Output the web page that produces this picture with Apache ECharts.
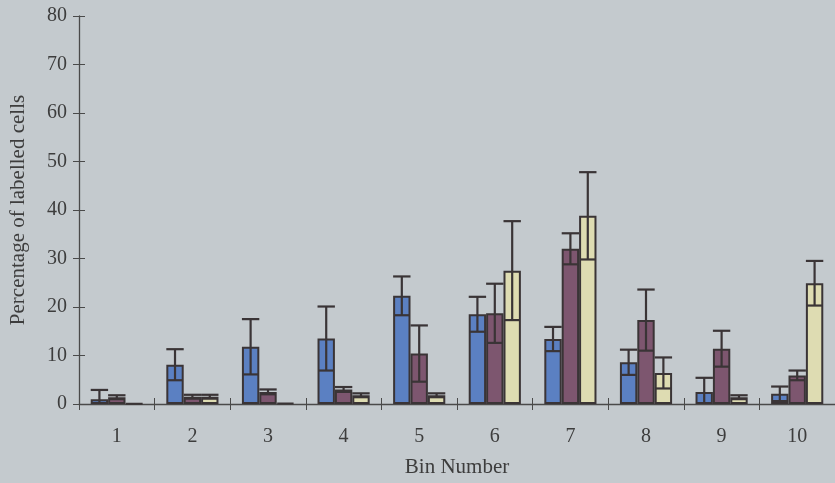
<!DOCTYPE html>
<html>
<head>
<meta charset="utf-8">
<script src="https://cdn.jsdelivr.net/npm/echarts@6/dist/echarts.min.js"></script>
<style>
  html, body { margin: 0; padding: 0; background: #c4cace; }
  #chart { width: 835px; height: 483px; }
</style>
</head>
<body>
<div id="chart"></div>
<script>
// Bin numbers along the x axis
const bins = ['1', '2', '3', '4', '5', '6', '7', '8', '9', '10'];
const yTicks = [0, 10, 20, 30, 40, 50, 60, 70, 80];

// Percentage of labelled cells per bin, with error (+/-) for each group
const blueVals   = [1.0, 8.1, 11.8, 13.5, 22.3, 18.5, 13.4, 8.6, 2.5, 2.1];
const blueErr    = [1.9, 3.2, 5.7, 6.6, 4.0, 3.6, 2.5, 2.6, 2.9, 1.5];
const purpleVals = [1.4, 1.5, 2.5, 3.0, 10.4, 18.7, 32.0, 17.3, 11.4, 5.9];
const purpleErr  = [0.4, 0.4, 0.5, 0.5, 5.8, 6.1, 3.2, 6.3, 3.7, 1.0];
const yellowVals = [0.1, 1.5, 0.2, 1.8, 1.8, 27.5, 38.8, 6.4, 1.4, 24.9];
const yellowErr  = [0, 0.4, 0, 0.4, 0.4, 10.2, 9.0, 3.2, 0.4, 4.6];

const BAR_PCT = 0.23;
const INK = '#3a3436';
const TEXT = '#3d3d3d';
const FONT = 'Liberation Serif';

const groups = [
  { vals: blueVals,   err: blueErr,   color: '#5b80c2', slot: -1 },
  { vals: purpleVals, err: purpleErr, color: '#7d566f', slot: 0 },
  { vals: yellowVals, err: yellowErr, color: '#dedcb2', slot: 1 }
];

// Error whisker: stem from (v - e) to (v + e), cap on top, crossbar at the low end
function errorRenderer(slot) {
  return function (params, api) {
    const idx = api.value(0);
    const v = api.value(1);
    const e = api.value(2);
    if (!(e > 0)) return null;
    const band = api.size([1, 0])[0];
    const bw = band * BAR_PCT;
    const cx = api.coord([idx, 0])[0] + slot * bw;
    const yTop = api.coord([idx, v + e])[1];
    const lowVal = Math.max(v - e, 0);
    const yLow = api.coord([idx, lowVal])[1];
    const half = bw / 2;
    const style = { stroke: INK, lineWidth: 2.2 };
    const children = [
      { type: 'line', shape: { x1: cx, y1: yTop, x2: cx, y2: yLow }, style: style },
      { type: 'line', shape: { x1: cx - half, y1: yTop, x2: cx + half, y2: yTop }, style: style }
    ];
    if (lowVal > 0) {
      children.push({ type: 'line', shape: { x1: cx - half + 1, y1: yLow, x2: cx + half - 1, y2: yLow }, style: style });
    }
    return { type: 'group', children: children };
  };
}

const series = [];
groups.forEach(function (g) {
  series.push({
    type: 'bar',
    data: g.vals,
    barWidth: (BAR_PCT * 100) + '%',
    barGap: '0%',
    itemStyle: { color: g.color, borderColor: INK, borderWidth: 2 },
    z: 2
  });
});
groups.forEach(function (g) {
  series.push({
    type: 'custom',
    data: g.vals.map(function (v, i) { return [i, v, g.err[i]]; }),
    encode: { x: 0, y: 1 },
    renderItem: errorRenderer(g.slot),
    z: 5
  });
});

const chart = echarts.init(document.getElementById('chart'));
chart.setOption({
  backgroundColor: '#c4cace',
  animation: false,
  grid: { left: 78, right: -5, top: 16, bottom: 79 },
  xAxis: [
    {
      type: 'category',
      data: bins,
      name: 'Bin Number',
      nameLocation: 'middle',
      nameGap: 53,
      nameTextStyle: { fontFamily: FONT, fontSize: 21, color: TEXT },
      axisLine: { lineStyle: { color: '#4a4a4a', width: 1.3 } },
      axisTick: { show: true, length: 6, lineStyle: { color: '#4a4a4a' } },
      axisLabel: { margin: 23, fontFamily: FONT, fontSize: 20, color: TEXT },
      splitLine: { show: false }
    },
    {
      type: 'category',
      data: bins,
      position: 'bottom',
      axisLine: { show: false },
      axisTick: { show: true, inside: true, length: 6, lineStyle: { color: '#4a4a4a' } },
      axisLabel: { show: false },
      splitLine: { show: false }
    }
  ],
  yAxis: [
    {
      type: 'value',
      min: yTicks[0],
      max: yTicks[yTicks.length - 1],
      interval: 10,
      name: 'Percentage of labelled cells',
      nameLocation: 'middle',
      nameGap: 50,
      nameTextStyle: { fontFamily: FONT, fontSize: 21, color: TEXT },
      axisLine: { show: true, lineStyle: { color: '#4a4a4a', width: 1.3 } },
      axisTick: { show: true, length: 6, lineStyle: { color: '#4a4a4a' } },
      axisLabel: { margin: 12, fontFamily: FONT, fontSize: 20, color: TEXT },
      splitLine: { show: false }
    },
    {
      type: 'value',
      min: yTicks[0],
      max: yTicks[yTicks.length - 1],
      interval: 10,
      position: 'left',
      axisLine: { show: false },
      axisTick: { show: true, inside: true, length: 6, lineStyle: { color: '#4a4a4a' } },
      axisLabel: { show: false },
      splitLine: { show: false }
    }
  ],
  series: series
});
</script>
</body>
</html>
